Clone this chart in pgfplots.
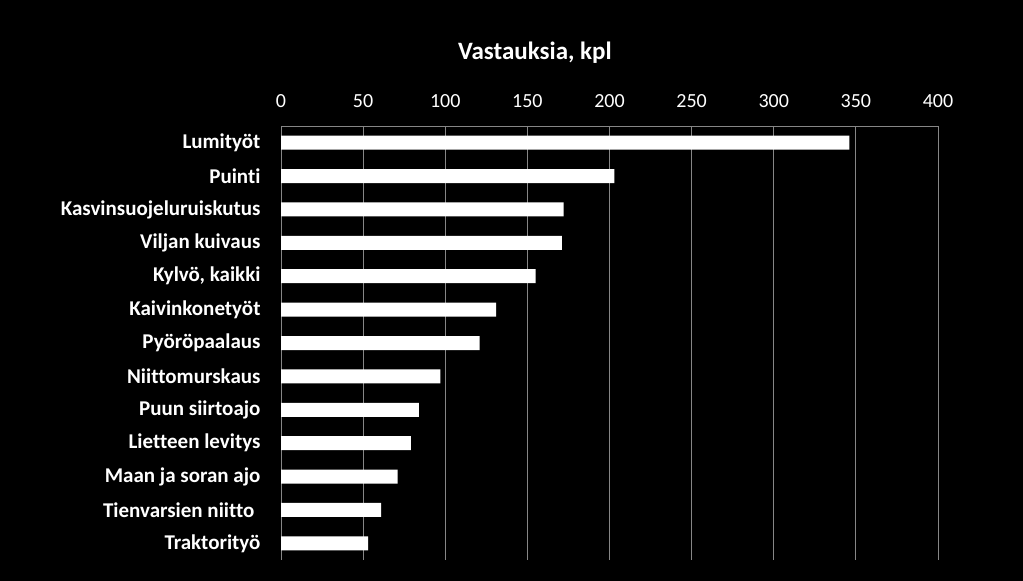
\documentclass[border=0pt]{standalone}
\usepackage{pgfplots}
\pgfplotsset{compat=1.18}
\usepackage{fontspec}
\setmainfont{Carlito}[Ligatures=NoCommon]
\definecolor{gridgray}{RGB}{134,134,134}
\begin{document}
\begin{tikzpicture}
\fill[black] (0pt,0pt) rectangle (1023pt,581pt);
\begin{axis}[
  at={(281pt,21pt)}, anchor=south west,
  width=657pt, height=434pt, scale only axis,
  xbar, bar width=14pt,
  xmin=0, xmax=400, xtick={0,50,...,400},
  ymin=-0.5, ymax=12.5, y dir=reverse,
  ytick={0,...,12},
  yticklabels={Lumityöt,Puinti,Kasvinsuojeluruiskutus,Viljan kuivaus,{Kylvö, kaikki},Kaivinkonetyöt,Pyöröpaalaus,Niittomurskaus,Puun siirtoajo,Lietteen levitys,Maan ja soran ajo,Tienvarsien niitto\hspace*{6pt},Traktorityö},
  axis x line*=top, axis y line*=left,
  axis line style={gridgray, line width=1pt},
  xmajorgrids, grid style={gridgray, line width=1pt},
  major tick length=0pt,
  /pgf/number format/assume math mode=true,
  xticklabel style={font=\fontsize{20}{22}\selectfont, text=white, yshift=15pt},
  yticklabel style={font=\bfseries\fontsize{21}{23}\selectfont, text=white, xshift=-17pt},
]
\addplot[fill=white, draw=none] coordinates {
(346,0) (203,1) (172,2) (171,3) (155,4) (131,5) (121,6) (97,7) (84,8) (79,9) (71,10) (61,11) (53,12)
};
\end{axis}
\node[text=white, font=\bfseries\fontsize{25}{27}\selectfont] at (535pt,528pt) {Vastauksia, kpl};
\end{tikzpicture}
\end{document}
